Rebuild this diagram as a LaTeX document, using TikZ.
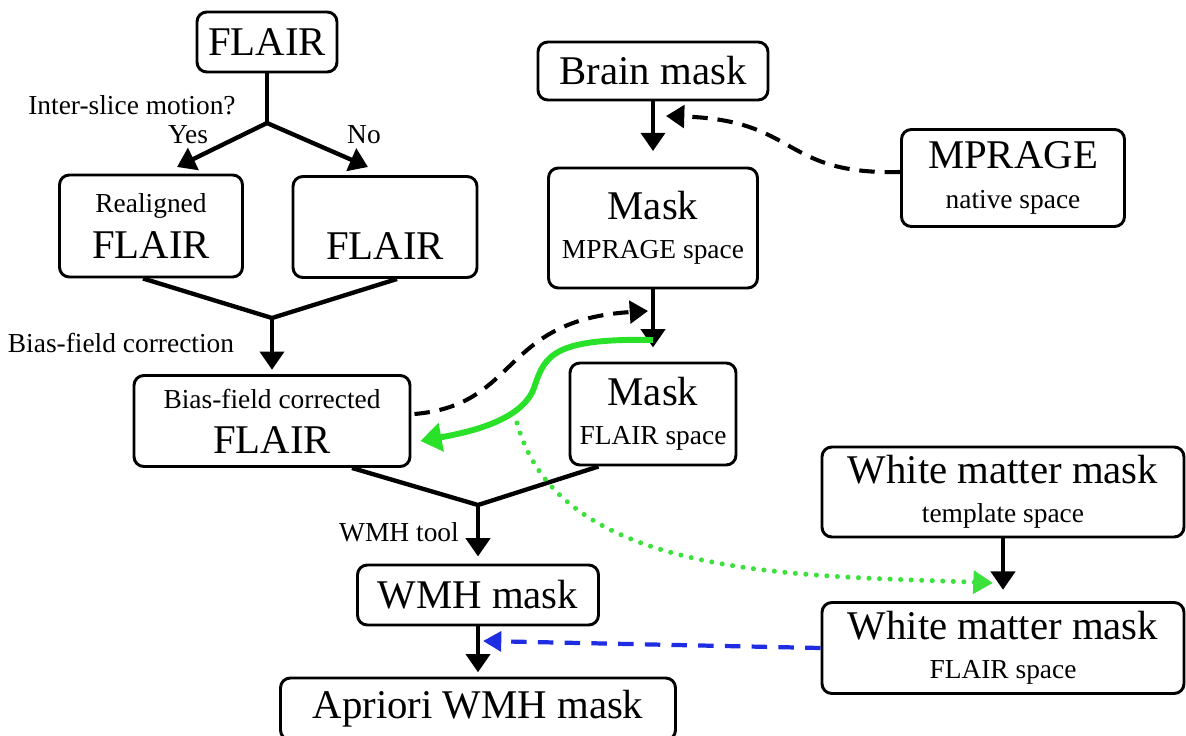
\documentclass[tikz,border=0pt]{standalone}
\usepackage{fontspec}
\setmainfont{Liberation Serif}
\usetikzlibrary{arrows.meta,calc}

\definecolor{flowgreen}{RGB}{40,225,40}
\definecolor{dotgreen}{RGB}{60,225,60}
\definecolor{mapblue}{RGB}{30,45,225}

\begin{document}
\begin{tikzpicture}[x=0.025cm,y=-0.025cm,
		box node/.style={draw,line width=2.1pt,rounded corners=7pt,inner sep=0pt,align=center,font=\boxfont},
		flow arrow/.style={line width=3.1pt,-{Triangle[length=13pt,width=17pt]}},
		flow line/.style={line width=3.1pt},
		side label/.style={font=\notefont,inner sep=0pt},
		mapping arrow/.style={line width=2.9pt,dash pattern=on 11pt off 7pt,-{Triangle[length=13pt,width=16pt]}},
		flair arrow/.style={color=flowgreen,line width=4.2pt,-{Triangle[length=15pt,width=20pt]}},
		wm arrow/.style={color=dotgreen,line width=3.6pt,line cap=round,dash pattern=on 0pt off 7.5pt,-{Triangle[length=14pt,width=16pt]}},
		back arrow/.style={color=mapblue,line width=3pt,dash pattern=on 11pt off 8pt,-{Triangle[length=13pt,width=14pt]}}
		]
		
		\def\boxfont{\fontsize{29}{28}\selectfont}
		\def\notefont{\fontsize{19.5}{22}\selectfont}
		\def\px{0.025cm}
		
		\useasboundingbox (0,0) rectangle (1186,736);
		
		% FLAIR branch
		\node[box node,minimum width=140*\px,minimum height=60*\px] at (267,42) (flair) {FLAIR};
		\node[box node,minimum width=183*\px,minimum height=102*\px] at (151,226) (realigned) {{\notefont Realigned}\\[5pt]FLAIR};
		\node[box node,minimum width=184*\px,minimum height=101*\px] at (385,227) (flairno) {{\notefont\phantom{Realigned}}\\[5pt]FLAIR};
		\node[box node,minimum width=276*\px,minimum height=91*\px] at (272,421) (biasflair) {{\notefont Bias-field corrected}\\[4pt]FLAIR};
		\node[box node,minimum width=241*\px,minimum height=60*\px] at (478,595) (wmhmask) {WMH mask};
		\node[box node,minimum width=395*\px,minimum height=62*\px] at (478,709) (apriori) {Apriori WMH mask};
		
		% mask branch
		\node[box node,minimum width=230*\px,minimum height=58*\px] at (653,71) (brainmask) {Brain mask};
		\node[box node,minimum width=223*\px,minimum height=97*\px] at (1013,178) (mpragenative) {MPRAGE\\{\notefont native space}};
		\node[box node,minimum width=209*\px,minimum height=120*\px] at (653,228) (maskmprage) {Mask\\{\notefont MPRAGE space}};
		\node[box node,minimum width=166*\px,minimum height=102*\px] at (653,414) (maskflair) {Mask\\{\notefont FLAIR space}};
		\node[box node,minimum width=362*\px,minimum height=90*\px] at (1003,492) (wmtemplate) {White matter mask\\{\notefont template space}};
		\node[box node,minimum width=362*\px,minimum height=91*\px] at (1003,648) (wmflair) {White matter mask\\{\notefont FLAIR space}};
		
		% labels
		\node[side label] at (132,105) (motion) {Inter-slice motion?};
		\node[side label] at (188,135) (yes) {Yes};
		\node[side label] at (364,135) (no) {No};
		\node[side label] at (121,343) (biascorr) {Bias-field correction};
		\node[side label] at (399,532) (wmhtool) {WMH tool};
		
		\coordinate (split) at (267,123);
		\coordinate (yestip) at (177,167);
		\coordinate (notip) at (368,167);
		\coordinate (merge) at (272,318);
		\coordinate (wmhmerge) at (478,505);
		\coordinate (brainmid) at (666,116);
		\coordinate (maskmid) at (648,311);
		\coordinate (flairmid) at (653,340);
		\coordinate (dotstart) at (517,423);
		\coordinate (wmtip) at (993,583);
		\coordinate (wmhtip) at (483,641);
		
		\draw[flow line] (flair) -- (split);
		\foreach \t in {yestip,notip}
			\draw[flow arrow] (split) -- (\t);
		\draw[flow line] ($(realigned.south)+(-8,0)$) -- (merge) -- ($(flairno.south)+(12,0)$);
		\draw[flow arrow,shorten >=3pt] (merge) -- (biasflair);
		\draw[flow line] ($(biasflair.south)+(80,0)$) -- (wmhmerge) -- ($(maskflair.south west)+(30,0)$);
		\draw[flow arrow,shorten >=5pt] (wmhmerge) -- (wmhmask);
		\draw[flow arrow,shorten >=3pt] (wmhmask) -- (apriori);
		\draw[flow arrow,shorten >=11pt] (brainmask) -- (maskmprage);
		\draw[flow arrow,shorten >=10pt] (maskmprage) -- (maskflair);
		\draw[flow arrow,shorten >=8pt] (wmtemplate) -- (wmflair);
		
		% registrations
		\draw[mapping arrow] ($(mpragenative.west)+(0,-6)$) .. controls (780,175) and (800,120) .. (brainmid);
		\draw[mapping arrow] ($(biasflair.east)+(3,-7)$) .. controls (520,405) and (500,320) .. (maskmid);
		\draw[flair arrow] (flairmid) .. controls (555,338) and (545,355) .. (535,385) .. controls (525,420) and (470,432) .. ($(biasflair.east)+(9,20)$);
		\draw[wm arrow] (dotstart) .. controls (560,580) and (800,575) .. (wmtip);
		\draw[back arrow] (wmflair.west) -- (wmhtip);
		
\end{tikzpicture}
\end{document}
